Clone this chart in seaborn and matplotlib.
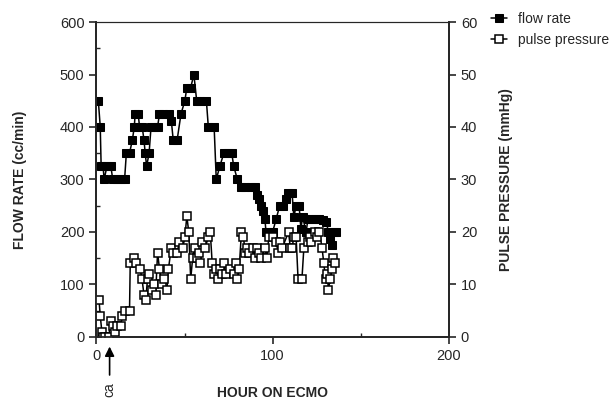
import seaborn as sns
import matplotlib.pyplot as plt
from matplotlib.ticker import MultipleLocator

# flow rate (cc/min) vs hour on ECMO
flow_hours = [1.1, 2.2, 2.7, 3.8, 4.4, 6.0, 8.2, 9.3, 11.5, 13.7, 16.0, 17.0, 18.8, 20.4,
              21.5, 22.0, 23.7, 24.5, 26.0, 27.0, 27.7, 28.5, 29.9, 31.0, 32.5, 34.7,
              35.8, 38.0, 41.4, 42.5, 43.6, 45.8, 48.0, 50.2, 51.3, 53.5, 55.3, 56.9,
              59.0, 62.4, 63.5, 66.8, 68.0, 70.0, 72.3, 74.5, 76.8, 77.9, 80.0, 82.3,
              84.5, 87.8, 90.0, 91.0, 92.0, 93.4, 94.5, 95.6, 96.2, 97.8, 100.0, 102.0,
              104.0, 106.0, 107.7, 108.8, 111.0, 112.0, 113.3, 115.0, 116.0, 117.0,
              119.0, 120.0, 122.0, 124.3, 126.5, 128.8, 130.5, 131.6, 132.6, 133.6,
              135.0, 135.8]
flow_rate = [450, 400, 325, 325, 300, 325, 325, 300, 300, 300, 300, 350, 350, 375,
             400, 425, 425, 400, 400, 375, 350, 325, 350, 400, 400, 400,
             425, 425, 425, 412, 375, 375, 425, 450, 475, 475, 500, 450,
             450, 450, 400, 400, 300, 325, 350, 350, 350, 325, 300, 285,
             285, 285, 285, 270, 262, 250, 240, 225, 200, 200, 200, 225,
             250, 250, 262, 275, 275, 228, 250, 250, 206, 228,
             200, 225, 225, 225, 225, 222, 218, 200, 187, 175,
             200, 200]

# pulse pressure (mmHg) vs hour on ECMO
pp_hours = [1.5, 2.2, 3.1, 4.0, 4.9, 7.0, 8.2, 9.3, 10.4, 11.5, 13.7, 14.8, 16.0, 18.8,
            19.2, 21.5, 22.6, 24.8, 25.9, 27.0, 28.0, 29.0, 30.0, 31.3, 32.5, 33.6,
            34.7, 35.8, 37.0, 38.1, 40.0, 40.9, 42.5, 43.6, 45.8, 47.0, 49.0, 50.2,
            51.3, 52.4, 53.5, 54.6, 55.8, 56.9, 58.0, 59.0, 60.0, 61.7, 63.5, 64.6,
            65.7, 66.8, 68.0, 69.0, 70.0, 71.0, 72.3, 73.5, 75.7, 78.0, 79.0, 80.0,
            81.0, 82.3, 83.4, 84.5, 85.6, 86.7, 89.0, 90.0, 91.0, 92.0, 93.4, 95.6,
            96.7, 97.8, 100.0, 102.0, 103.2, 104.4, 105.5, 109.0, 110.0, 111.0, 112.0,
            113.3, 114.4, 116.6, 117.7, 120.0, 121.0, 122.0, 124.0, 125.3, 126.5,
            128.0, 129.0, 130.0, 131.0, 131.6, 132.6, 133.6, 134.5, 135.4]
pulse_pressure = [7, 4, 1, 0, 0, 0, 3, 2, 1, 2, 2, 4, 5, 5,
                  14, 15, 14, 13, 11, 8, 7, 11, 12, 9, 10, 8,
                  16, 13, 10, 11, 9, 13, 17, 16, 16, 18, 17, 19,
                  23, 20, 11, 15, 17, 15, 16, 14, 18, 17, 19, 20,
                  14, 12, 13, 11, 13, 12, 14, 12, 13, 12, 14, 11,
                  13, 20, 19, 16, 17, 16, 17, 15, 17, 16, 15, 17,
                  15, 19, 19, 18, 16, 18, 17, 20, 17, 17, 19,
                  19, 11, 11, 17, 18, 19, 18, 20, 19, 20,
                  17, 14, 11, 12, 9, 11, 13, 15, 14]

sns.set_style('ticks')
plt.rcParams['font.family'] = ['Liberation Sans', 'DejaVu Sans']

fig, ax = plt.subplots(figsize=(6.1, 4.01), dpi=100)
fig.subplots_adjust(left=0.158, right=0.736, top=0.945, bottom=0.16)
ax2 = ax.twinx()

sns.lineplot(x=flow_hours, y=flow_rate, sort=False, ax=ax, color='black',
             linewidth=1.1, marker='s', markersize=5.5, markerfacecolor='black',
             markeredgecolor='black', label='flow rate', legend=False)
sns.lineplot(x=pp_hours, y=pulse_pressure, sort=False, ax=ax2, color='black',
             linewidth=1.1, marker='s', markersize=5.5, markerfacecolor='white',
             markeredgecolor='black', markeredgewidth=1.1, label='pulse pressure',
             legend=False)

ax.set_xlim(0, 200)
ax.set_ylim(0, 600)
ax2.set_ylim(0, 60)
ax.xaxis.set_major_locator(MultipleLocator(100))
ax.yaxis.set_major_locator(MultipleLocator(100))
ax2.yaxis.set_major_locator(MultipleLocator(10))
ax.xaxis.set_minor_locator(MultipleLocator(50))
ax.yaxis.set_minor_locator(MultipleLocator(50))

for a in (ax, ax2):
    for s in a.spines.values():
        s.set_visible(True)
        s.set_linewidth(1.3)
    a.spines['top'].set_linewidth(0.8)
    a.tick_params(which='major', direction='out', length=5, width=1.2, labelsize=10.5)
    a.tick_params(which='minor', direction='in', length=3, width=1)

ax.set_xlabel('HOUR ON ECMO', fontweight='bold', fontsize=10, labelpad=17)
ax.set_ylabel('FLOW RATE (cc/min)', fontweight='bold', fontsize=10, labelpad=24)
ax2.set_ylabel('PULSE PRESSURE (mmHg)', fontweight='bold', fontsize=10, labelpad=16)

# cardiac arrest marker below the x axis
ax.annotate('', xy=(7.5, -0.022), xycoords=('data', 'axes fraction'),
            xytext=(7.5, -0.13), textcoords=('data', 'axes fraction'),
            arrowprops=dict(arrowstyle='-|>', color='black', lw=1.2, mutation_scale=14),
            annotation_clip=False)
ax.text(7.5, -0.168, 'ca', transform=ax.get_xaxis_transform(), rotation=90,
        ha='center', va='center', fontsize=10)

handles = ax.get_lines()[:1] + ax2.get_lines()[:1]
fig.legend(handles, ['flow rate', 'pulse pressure'], loc='upper left',
           bbox_to_anchor=(0.795, 0.985), frameon=False, fontsize=10,
           handlelength=1.2, handletextpad=0.8, labelspacing=0.5, borderaxespad=0)

fig.savefig('out.png', dpi=100)
